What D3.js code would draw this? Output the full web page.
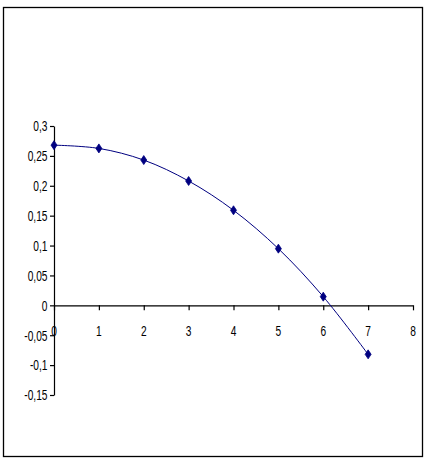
<!DOCTYPE html>
<html><head><meta charset="utf-8">
<script src="https://cdn.jsdelivr.net/npm/d3@7"></script>
<style>html,body{margin:0;padding:0;background:#fff;}svg{display:block;}</style>
</head><body>
<script>
const xValues = [0, 1, 2, 3, 4, 5, 6, 7];
const yValues = [0.268, 0.2625, 0.243, 0.208, 0.159, 0.0948, 0.0145, -0.082];
const xTicks = [0, 1, 2, 3, 4, 5, 6, 7, 8];
const yTicks = [-0.15, -0.1, -0.05, 0, 0.05, 0.1, 0.15, 0.2, 0.25, 0.3];
const yTickLabels = ["-0,15", "-0,1", "-0,05", "0", "0,05", "0,1", "0,15", "0,2", "0,25", "0,3"];

const W = 428, H = 465;
const svg = d3.select("body").append("svg").attr("width", W).attr("height", H);
svg.append("rect").attr("width", W).attr("height", H).attr("fill", "#fff");
svg.append("rect").attr("x", 3.5).attr("y", 7.5).attr("width", 419).attr("height", 449)
  .attr("fill", "none").attr("stroke", "#000").attr("stroke-width", 1.3);

const x = d3.scaleLinear().domain([0, 8]).range([54, 413]);
const y = d3.scaleLinear().domain([-0.15, 0.3]).range([395, 126]);

const font = "'Liberation Sans', Arial, sans-serif";

// Y axis
const yAxis = svg.append("g").attr("transform", `translate(${x(0)},0)`)
  .call(d3.axisLeft(y).tickValues(yTicks).tickSize(4).tickSizeOuter(0).tickFormat(() => ""));
yAxis.select(".domain").attr("stroke", "#000").attr("stroke-width", 1.2);
yAxis.selectAll(".tick line").attr("stroke", "#000").attr("stroke-width", 1.2);
svg.append("g").selectAll("text").data(yTicks).join("text")
  .attr("transform", (d) => `translate(47.5,${y(d) + 5.3}) scale(0.68,1)`)
  .attr("text-anchor", "end").attr("font-family", font).attr("font-size", 15)
  .attr("fill", "#000").text((d, i) => yTickLabels[i]);

// X axis
const xAxis = svg.append("g").attr("transform", `translate(0,${y(0)})`)
  .call(d3.axisBottom(x).tickValues(xTicks).tickSize(5).tickSizeOuter(0).tickFormat(() => ""));
xAxis.select(".domain").attr("stroke", "#000").attr("stroke-width", 1.2);
xAxis.selectAll(".tick line").attr("stroke", "#000").attr("stroke-width", 1.2);
svg.append("g").selectAll("text").data(xTicks).join("text")
  .attr("transform", (d) => `translate(${x(d)},${y(0) + 31}) scale(0.68,1)`)
  .attr("text-anchor", "middle").attr("font-family", font).attr("font-size", 15)
  .attr("fill", "#000").text((d) => String(d));

// Line
const pts = xValues.map((v, i) => [v, yValues[i]]);
const line = d3.line().x((d) => x(d[0])).y((d) => y(d[1])).curve(d3.curveCatmullRom.alpha(0.5));
svg.append("path").datum(pts).attr("d", line).attr("fill", "none")
  .attr("stroke", "#000080").attr("stroke-width", 1);

// Markers (diamonds)
svg.append("g").selectAll("path").data(pts).join("path")
  .attr("transform", (d) => `translate(${x(d[0])},${y(d[1])})`)
  .attr("d", "M0,-4.5L3,0L0,4.5L-3,0Z")
  .attr("fill", "#000080").attr("stroke", "#000080").attr("stroke-width", 0.8);
</script>
</body></html>
